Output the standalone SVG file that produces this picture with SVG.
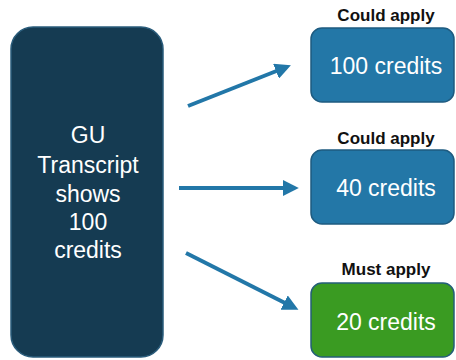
<svg xmlns="http://www.w3.org/2000/svg" width="456" height="360" viewBox="0 0 456 360">
<defs>
<style>
.lbl{font-family:"Liberation Sans",Arial,sans-serif;font-weight:bold;font-size:17px;fill:#111;text-anchor:middle}
.wt{font-family:"Liberation Sans",Arial,sans-serif;font-size:23px;fill:#fff;text-anchor:middle}
.blue{fill:#2377a7;stroke:#1e5b80;stroke-width:1.5}
.green{fill:#3a9b22;stroke:#245f78;stroke-width:1.5}
.conn{stroke:#2277a8;stroke-width:4;fill:none;marker-end:url(#ah)}
</style>
<marker id="ah" viewBox="0 0 10 10" refX="2" refY="5" markerWidth="4" markerHeight="4" orient="auto" markerUnits="strokeWidth">
<path d="M0,0 L10,5 L0,10 z" fill="#2277a8"/>
</marker>
</defs>
<rect width="456" height="360" fill="#fff"/>
<g id="source">
<rect x="11" y="27" width="152" height="330" rx="22" fill="#153b52" stroke="#2a5c7b" stroke-width="1.5"/>
<text class="wt"><tspan x="88" y="143">GU</tspan><tspan x="88" y="173">Transcript</tspan><tspan x="88" y="202">shows</tspan><tspan x="88" y="230">100</tspan><tspan x="88" y="258">credits</tspan></text>
</g>
<g id="connectors">
<line class="conn" x1="188" y1="106" x2="279" y2="70"/>
<line class="conn" x1="179" y1="188" x2="286" y2="188"/>
<line class="conn" x1="186" y1="253" x2="287" y2="304"/>
</g>
<g id="n100">
<text class="lbl" x="386" y="21">Could apply</text>
<rect class="blue" x="311" y="28" width="143" height="74" rx="11"/>
<text class="wt" x="386" y="74">100 credits</text>
</g>
<g id="n40">
<text class="lbl" x="386" y="144">Could apply</text>
<rect class="blue" x="311" y="150" width="143" height="74" rx="11"/>
<text class="wt" x="386" y="196">40 credits</text>
</g>
<g id="n20">
<text class="lbl" x="386" y="275">Must apply</text>
<rect class="green" x="311" y="283" width="143" height="74" rx="11"/>
<text class="wt" x="386" y="330">20 credits</text>
</g>
</svg>
